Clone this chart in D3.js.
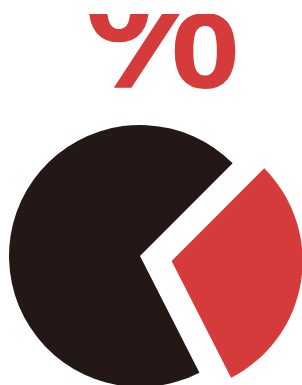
<!DOCTYPE html>
<html><head><meta charset="utf-8">
<script src="https://cdn.jsdelivr.net/npm/d3@7/dist/d3.min.js"></script>
<style>html,body{margin:0;padding:0;background:#fff;overflow:hidden}</style>
</head><body>
<script>
const categories = ["part", "rest"];
const values = [30, 70];
const colors = ["#d63b3b", "#231815"];
const symbolText = "%";

const W = 302, H = 385;
const svg = d3.select("body").append("svg").attr("width", W).attr("height", H);

svg.append("defs").append("clipPath").attr("id", "clipTop")
  .append("rect").attr("x", 0).attr("y", 14).attr("width", W).attr("height", H);

svg.append("g").attr("clip-path", "url(#clipTop)")
  .append("text")
  .attr("x", 162).attr("y", 88)
  .attr("text-anchor", "middle")
  .style("font-family", "'Liberation Sans', Arial, sans-serif")
  .style("font-weight", "bold")
  .style("font-size", "175px")
  .attr("fill", colors[0])
  .text(symbolText);

const cx = 140, cy = 256, r = 131, explode = 32;
const pie = d3.pie().sort(null).value(d => d).startAngle(Math.PI / 4).endAngle(Math.PI / 4 + 2 * Math.PI);
const arcs = pie(values);
const arc = d3.arc().innerRadius(0).outerRadius(r);
const g = svg.append("g").attr("transform", `translate(${cx},${cy})`);
g.selectAll("path").data(arcs).join("path")
  .attr("d", arc)
  .attr("fill", (d, i) => colors[i])
  .attr("transform", (d, i) => {
    if (i !== 0) return null;
    const a = (d.startAngle + d.endAngle) / 2;
    return `translate(${Math.sin(a) * explode},${-Math.cos(a) * explode})`;
  });
</script>
</body></html>
